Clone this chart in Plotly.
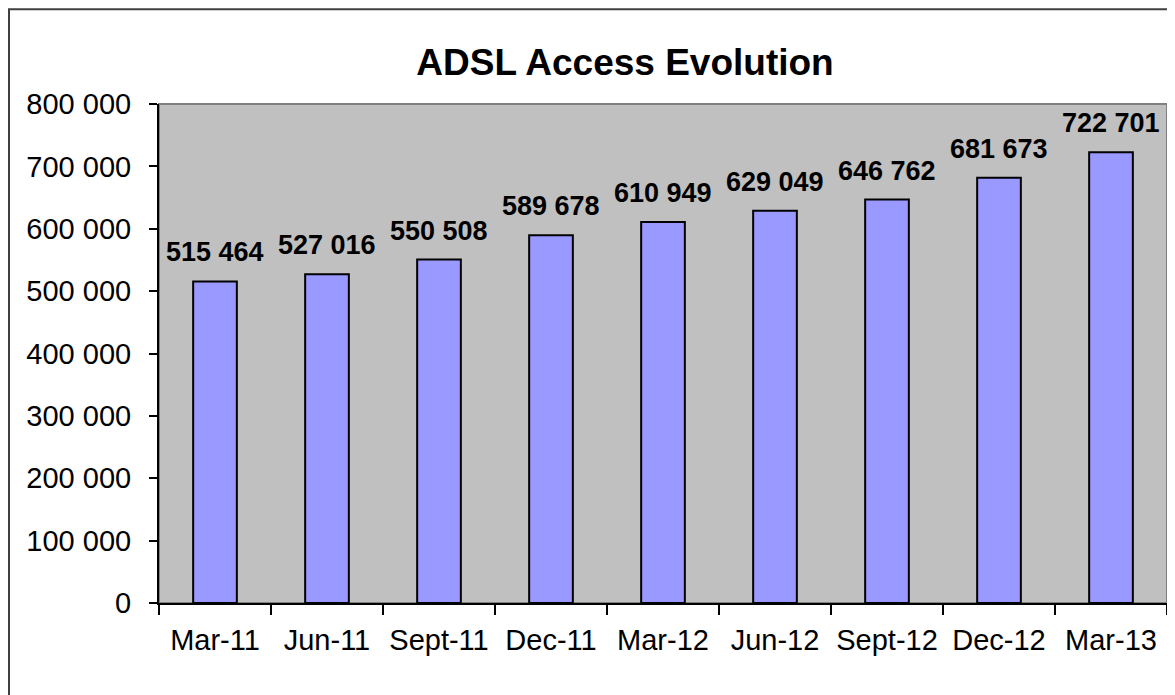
import plotly.graph_objects as go

categories = ["Mar-11", "Jun-11", "Sept-11", "Dec-11", "Mar-12", "Jun-12", "Sept-12", "Dec-12", "Mar-13"]
values = [515464, 527016, 550508, 589678, 610949, 629049, 646762, 681673, 722701]
y_ticks = [0, 100000, 200000, 300000, 400000, 500000, 600000, 700000, 800000]

FONT = "Liberation Sans, Arial, sans-serif"

fig = go.Figure()
fig.add_trace(go.Bar(
    x=categories, y=values,
    marker=dict(color="#9999FF", line=dict(color="black", width=2)),
    hoverinfo="x+y",
))

annotations = []
for c, v in zip(categories, values):
    annotations.append(dict(
        x=c, y=v, xref="x", yref="y", text=f"{v:,}".replace(",", " "),
        showarrow=False, yanchor="bottom", yshift=12,
        font=dict(family=FONT, size=27, color="black", weight="bold"),
    ))

W, H = 1167, 687
fig.update_layout(
    width=W, height=H, autosize=False,
    margin=dict(l=151, r=8, t=96, b=92),
    paper_bgcolor="white", plot_bgcolor="#C0C0C0",
    separators=". ",
    bargap=0.61,
    showlegend=False,
    title=dict(text="<b>ADSL Access Evolution</b>", x=617 / W, xanchor="center",
               y=1 - 54 / H, yanchor="middle",
               font=dict(family=FONT, size=37, color="black")),
    font=dict(family=FONT, color="black"),
    annotations=annotations,
    shapes=[
        dict(type="rect", xref="paper", yref="paper", x0=0, x1=1, y0=0, y1=1,
             line=dict(color="#808080", width=2), layer="below"),
        dict(type="rect", xref="paper", yref="paper", x0=-0.1488, x1=1.05, y0=-0.3, y1=1.19,
             line=dict(color="#404040", width=2), fillcolor="rgba(0,0,0,0)", layer="below"),
    ],
)

fig.update_xaxes(
    showline=True, linecolor="black", linewidth=2,
    ticks="outside", tickson="boundaries", ticklen=10, tickcolor="black", tickwidth=1.5,
    tickfont=dict(family=FONT, size=29, color="black"),
    ticklabelstandoff=10,
    showgrid=False,
)
fig.update_yaxes(
    range=[0, 800000], tickvals=y_ticks, tickformat=",d",
    showline=True, linecolor="black", linewidth=2,
    ticks="outside", ticklen=8, tickcolor="black", tickwidth=1.5,
    tickfont=dict(family=FONT, size=29, color="black"),
    ticklabelstandoff=12,
    showgrid=False, zeroline=False,
)

fig.write_html("out.html")
